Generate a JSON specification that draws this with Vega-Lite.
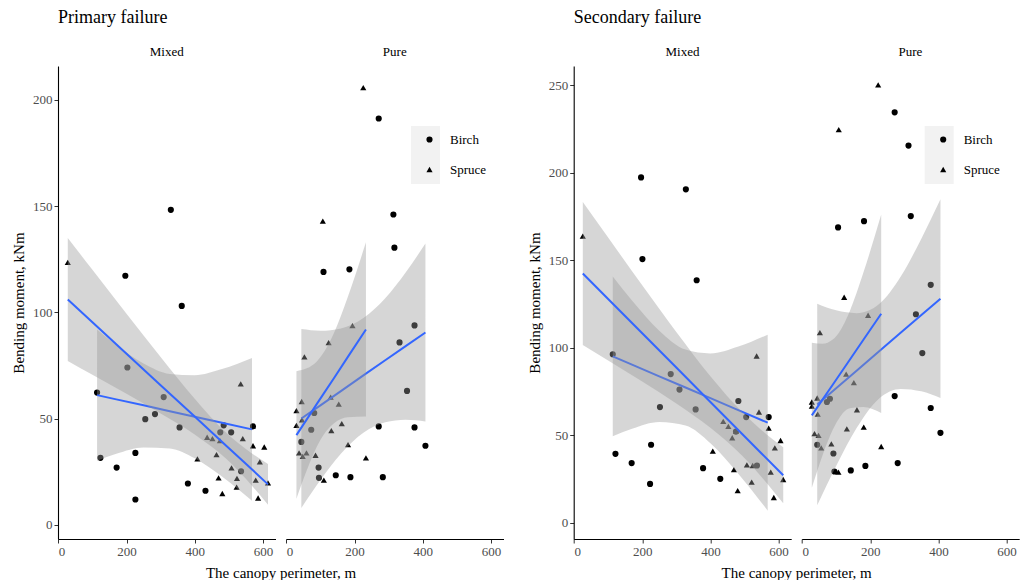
{
  "$schema": "https://vega.github.io/schema/vega-lite/v6.json",
  "background": "white",
  "padding": {"left": 11, "top": 9, "right": 0, "bottom": 0},
  "config": {
    "font": "Liberation Serif",
    "view": {"stroke": null},
    "axis": {"grid": false, "domainColor": "black", "domainWidth": 1.1, "tickColor": "#333333", "tickSize": 4, "tickWidth": 1, "labelColor": "#4d4d4d", "labelFont": "Liberation Serif", "labelFontSize": 13, "labelPadding": 2, "titleFont": "Liberation Serif", "titleFontSize": 15, "titleFontWeight": "normal", "titleColor": "black"},
    "legend": {"padding": 0, "title": null, "labelFont": "Liberation Serif", "labelFontSize": 13, "labelColor": "black", "symbolFillColor": "black", "symbolStrokeWidth": 0, "symbolSize": 38, "rowPadding": 16, "labelOffset": 14},
    "title": {"font": "Liberation Serif", "fontWeight": "normal", "color": "black"}
  },
  "datasets": {
    "keys": [{"k": "a"}, {"k": "b"}],
    "pts": [
      {"p":"P","s":"M","sp":"Spruce","x":27.7,"y":123.6},{"p":"P","s":"M","sp":"Spruce","x":535,"y":66.4},{"p":"P","s":"M","sp":"Spruce","x":436.5,"y":41.3},{"p":"P","s":"M","sp":"Spruce","x":452,"y":40.6},{"p":"P","s":"M","sp":"Spruce","x":474,"y":39.7},{"p":"P","s":"M","sp":"Spruce","x":541,"y":40.6},{"p":"P","s":"M","sp":"Spruce","x":464,"y":33.1},{"p":"P","s":"M","sp":"Spruce","x":408,"y":31.1},{"p":"P","s":"M","sp":"Spruce","x":571,"y":37.3},{"p":"P","s":"M","sp":"Spruce","x":604,"y":36.7},{"p":"P","s":"M","sp":"Spruce","x":508,"y":26.9},{"p":"P","s":"M","sp":"Spruce","x":591,"y":29.7},{"p":"P","s":"M","sp":"Spruce","x":470,"y":22.2},{"p":"P","s":"M","sp":"Spruce","x":524,"y":21.9},{"p":"P","s":"M","sp":"Spruce","x":579,"y":21.1},{"p":"P","s":"M","sp":"Spruce","x":615,"y":19.8},{"p":"P","s":"M","sp":"Spruce","x":523,"y":17.8},{"p":"P","s":"M","sp":"Spruce","x":481,"y":14.8},{"p":"P","s":"M","sp":"Spruce","x":586,"y":12.7},
      {"p":"P","s":"M","sp":"Birch","x":330,"y":148.3},{"p":"P","s":"M","sp":"Birch","x":196.5,"y":117.3},{"p":"P","s":"M","sp":"Birch","x":362,"y":103.1},{"p":"P","s":"M","sp":"Birch","x":202.5,"y":74.1},{"p":"P","s":"M","sp":"Birch","x":113.6,"y":62.3},{"p":"P","s":"M","sp":"Birch","x":309,"y":60.2},{"p":"P","s":"M","sp":"Birch","x":283.5,"y":52.2},{"p":"P","s":"M","sp":"Birch","x":255,"y":49.8},{"p":"P","s":"M","sp":"Birch","x":355.6,"y":45.9},{"p":"P","s":"M","sp":"Birch","x":571,"y":46.4},{"p":"P","s":"M","sp":"Birch","x":485,"y":46.9},{"p":"P","s":"M","sp":"Birch","x":475,"y":43.6},{"p":"P","s":"M","sp":"Birch","x":507,"y":43.6},{"p":"P","s":"M","sp":"Birch","x":536,"y":25.3},{"p":"P","s":"M","sp":"Birch","x":123.5,"y":31.6},{"p":"P","s":"M","sp":"Birch","x":226,"y":33.9},{"p":"P","s":"M","sp":"Birch","x":171,"y":27.0},{"p":"P","s":"M","sp":"Birch","x":380,"y":19.5},{"p":"P","s":"M","sp":"Birch","x":431.6,"y":16.1},{"p":"P","s":"M","sp":"Birch","x":226,"y":12.0},
      {"p":"P","s":"U","sp":"Spruce","x":225.6,"y":205.8},{"p":"P","s":"U","sp":"Spruce","x":107,"y":143},{"p":"P","s":"U","sp":"Spruce","x":194,"y":93.8},{"p":"P","s":"U","sp":"Spruce","x":124,"y":85.8},{"p":"P","s":"U","sp":"Spruce","x":53,"y":79.1},{"p":"P","s":"U","sp":"Spruce","x":45,"y":58.1},{"p":"P","s":"U","sp":"Spruce","x":130,"y":60.2},{"p":"P","s":"U","sp":"Spruce","x":153.7,"y":56.9},{"p":"P","s":"U","sp":"Spruce","x":29.6,"y":53.8},{"p":"P","s":"U","sp":"Spruce","x":29.6,"y":46.9},{"p":"P","s":"U","sp":"Spruce","x":46,"y":49.5},{"p":"P","s":"U","sp":"Spruce","x":162.6,"y":47.7},{"p":"P","s":"U","sp":"Spruce","x":132,"y":44.4},{"p":"P","s":"U","sp":"Spruce","x":181,"y":37.8},{"p":"P","s":"U","sp":"Spruce","x":37.4,"y":33.9},{"p":"P","s":"U","sp":"Spruce","x":59,"y":33.9},{"p":"P","s":"U","sp":"Spruce","x":48,"y":32.3},{"p":"P","s":"U","sp":"Spruce","x":85.7,"y":32.8},{"p":"P","s":"U","sp":"Spruce","x":233.5,"y":31.6},{"p":"P","s":"U","sp":"Spruce","x":110,"y":21.1},
      {"p":"P","s":"U","sp":"Birch","x":271,"y":191.3},{"p":"P","s":"U","sp":"Birch","x":314,"y":146.1},{"p":"P","s":"U","sp":"Birch","x":317,"y":130.5},{"p":"P","s":"U","sp":"Birch","x":109,"y":119.1},{"p":"P","s":"U","sp":"Birch","x":185,"y":120.3},{"p":"P","s":"U","sp":"Birch","x":376,"y":93.9},{"p":"P","s":"U","sp":"Birch","x":332,"y":85.9},{"p":"P","s":"U","sp":"Birch","x":354,"y":63.1},{"p":"P","s":"U","sp":"Birch","x":81.8,"y":52.7},{"p":"P","s":"U","sp":"Birch","x":73,"y":44.8},{"p":"P","s":"U","sp":"Birch","x":44,"y":39.1},{"p":"P","s":"U","sp":"Birch","x":271,"y":46.4},{"p":"P","s":"U","sp":"Birch","x":376,"y":45.9},{"p":"P","s":"U","sp":"Birch","x":408,"y":37.3},{"p":"P","s":"U","sp":"Birch","x":94.6,"y":27.0},{"p":"P","s":"U","sp":"Birch","x":95.6,"y":22.2},{"p":"P","s":"U","sp":"Birch","x":145,"y":23.4},{"p":"P","s":"U","sp":"Birch","x":188,"y":22.5},{"p":"P","s":"U","sp":"Birch","x":283,"y":22.5},
      {"p":"S","s":"M","sp":"Spruce","x":25.7,"y":163.7},{"p":"S","s":"M","sp":"Spruce","x":535.6,"y":95.2},{"p":"S","s":"M","sp":"Spruce","x":437.7,"y":57.8},{"p":"S","s":"M","sp":"Spruce","x":452.6,"y":55.0},{"p":"S","s":"M","sp":"Spruce","x":542.5,"y":63.2},{"p":"S","s":"M","sp":"Spruce","x":571,"y":54.0},{"p":"S","s":"M","sp":"Spruce","x":475,"y":52.1},{"p":"S","s":"M","sp":"Spruce","x":464,"y":48.5},{"p":"S","s":"M","sp":"Spruce","x":407,"y":40.8},{"p":"S","s":"M","sp":"Spruce","x":605.7,"y":46.9},{"p":"S","s":"M","sp":"Spruce","x":589,"y":42.7},{"p":"S","s":"M","sp":"Spruce","x":469,"y":30.3},{"p":"S","s":"M","sp":"Spruce","x":507,"y":33.0},{"p":"S","s":"M","sp":"Spruce","x":524,"y":32.6},{"p":"S","s":"M","sp":"Spruce","x":577,"y":28.8},{"p":"S","s":"M","sp":"Spruce","x":613.6,"y":24.6},{"p":"S","s":"M","sp":"Spruce","x":521,"y":23.1},{"p":"S","s":"M","sp":"Spruce","x":480,"y":18.3},{"p":"S","s":"M","sp":"Spruce","x":586,"y":14.3},
      {"p":"S","s":"M","sp":"Birch","x":196.6,"y":197.3},{"p":"S","s":"M","sp":"Birch","x":328,"y":190.5},{"p":"S","s":"M","sp":"Birch","x":200.6,"y":150.6},{"p":"S","s":"M","sp":"Birch","x":359.7,"y":138.5},{"p":"S","s":"M","sp":"Birch","x":113.6,"y":96.2},{"p":"S","s":"M","sp":"Birch","x":283.6,"y":84.9},{"p":"S","s":"M","sp":"Birch","x":309.3,"y":76.0},{"p":"S","s":"M","sp":"Birch","x":252,"y":66.0},{"p":"S","s":"M","sp":"Birch","x":356.7,"y":64.7},{"p":"S","s":"M","sp":"Birch","x":482,"y":69.5},{"p":"S","s":"M","sp":"Birch","x":571,"y":60.3},{"p":"S","s":"M","sp":"Birch","x":505,"y":60.3},{"p":"S","s":"M","sp":"Birch","x":475,"y":52},{"p":"S","s":"M","sp":"Birch","x":536.6,"y":32.6},{"p":"S","s":"M","sp":"Birch","x":121.5,"y":39.3},{"p":"S","s":"M","sp":"Birch","x":226,"y":44.5},{"p":"S","s":"M","sp":"Birch","x":169,"y":34.0},{"p":"S","s":"M","sp":"Birch","x":223,"y":22.1},{"p":"S","s":"M","sp":"Birch","x":378.5,"y":31.1},{"p":"S","s":"M","sp":"Birch","x":429,"y":25.0},
      {"p":"S","s":"U","sp":"Spruce","x":223.3,"y":250.2},{"p":"S","s":"U","sp":"Spruce","x":107.7,"y":224.6},{"p":"S","s":"U","sp":"Spruce","x":123.5,"y":128.8},{"p":"S","s":"U","sp":"Spruce","x":193.7,"y":118.5},{"p":"S","s":"U","sp":"Spruce","x":52.4,"y":108.6},{"p":"S","s":"U","sp":"Spruce","x":129.4,"y":84.9},{"p":"S","s":"U","sp":"Spruce","x":152,"y":80.0},{"p":"S","s":"U","sp":"Spruce","x":44.5,"y":71.2},{"p":"S","s":"U","sp":"Spruce","x":28.7,"y":68.9},{"p":"S","s":"U","sp":"Spruce","x":28.7,"y":66.6},{"p":"S","s":"U","sp":"Spruce","x":161,"y":64.5},{"p":"S","s":"U","sp":"Spruce","x":131.4,"y":53.6},{"p":"S","s":"U","sp":"Spruce","x":181,"y":54.6},{"p":"S","s":"U","sp":"Spruce","x":36.6,"y":50.8},{"p":"S","s":"U","sp":"Spruce","x":48.4,"y":49.8},{"p":"S","s":"U","sp":"Spruce","x":86,"y":45.0},{"p":"S","s":"U","sp":"Spruce","x":56.3,"y":42.7},{"p":"S","s":"U","sp":"Spruce","x":232.2,"y":43.5},{"p":"S","s":"U","sp":"Spruce","x":106.7,"y":28.8},{"p":"S","s":"U","sp":"Spruce","x":46,"y":62},
      {"p":"S","s":"U","sp":"Birch","x":271.7,"y":234.5},{"p":"S","s":"U","sp":"Birch","x":312.3,"y":215.5},{"p":"S","s":"U","sp":"Birch","x":319,"y":175.2},{"p":"S","s":"U","sp":"Birch","x":105.7,"y":168.7},{"p":"S","s":"U","sp":"Birch","x":181.8,"y":172.3},{"p":"S","s":"U","sp":"Birch","x":377.5,"y":135.9},{"p":"S","s":"U","sp":"Birch","x":334,"y":119.1},{"p":"S","s":"U","sp":"Birch","x":352.8,"y":96.9},{"p":"S","s":"U","sp":"Birch","x":81.8,"y":70.8},{"p":"S","s":"U","sp":"Birch","x":73,"y":68.9},{"p":"S","s":"U","sp":"Birch","x":44.5,"y":44.5},{"p":"S","s":"U","sp":"Birch","x":271.7,"y":72.3},{"p":"S","s":"U","sp":"Birch","x":377.5,"y":65.5},{"p":"S","s":"U","sp":"Birch","x":406,"y":51.3},{"p":"S","s":"U","sp":"Birch","x":92,"y":39.5},{"p":"S","s":"U","sp":"Birch","x":95,"y":29.2},{"p":"S","s":"U","sp":"Birch","x":143,"y":29.8},{"p":"S","s":"U","sp":"Birch","x":185.8,"y":32.4},{"p":"S","s":"U","sp":"Birch","x":280.6,"y":34.0}
    ],
    "fits": [
      {"p":"P","s":"M","sp":"Spruce","x":27.7,"lo":77.2,"hi":135.0,"y":106.1},{"p":"P","s":"M","sp":"Spruce","x":100,"lo":70.7,"hi":120.1,"y":95.4},{"p":"P","s":"M","sp":"Spruce","x":200,"lo":61.7,"hi":99.4,"y":80.6},{"p":"P","s":"M","sp":"Spruce","x":300,"lo":52.5,"hi":79.1,"y":65.8},{"p":"P","s":"M","sp":"Spruce","x":400,"lo":42.6,"hi":59.4,"y":51.0},{"p":"P","s":"M","sp":"Spruce","x":494,"lo":30.9,"hi":43.2,"y":37.0},{"p":"P","s":"M","sp":"Spruce","x":550,"lo":21.7,"hi":35.8,"y":28.8},{"p":"P","s":"M","sp":"Spruce","x":615,"lo":9.5,"hi":28.7,"y":19.1},
      {"p":"P","s":"M","sp":"Birch","x":113.6,"lo":30.2,"hi":92.0,"y":61.1},{"p":"P","s":"M","sp":"Birch","x":170,"lo":33.5,"hi":84.7,"y":59.1},{"p":"P","s":"M","sp":"Birch","x":250,"lo":36.5,"hi":76.0,"y":56.3},{"p":"P","s":"M","sp":"Birch","x":327,"lo":36.0,"hi":71.1,"y":53.5},{"p":"P","s":"M","sp":"Birch","x":400,"lo":31.4,"hi":70.5,"y":50.9},{"p":"P","s":"M","sp":"Birch","x":480,"lo":22.8,"hi":73.4,"y":48.1},{"p":"P","s":"M","sp":"Birch","x":568,"lo":11.4,"hi":78.6,"y":45.0},
      {"p":"P","s":"U","sp":"Spruce","x":29.6,"lo":12.3,"hi":72.4,"y":42.3},{"p":"P","s":"U","sp":"Spruce","x":60,"lo":25.7,"hi":73.7,"y":49.7},{"p":"P","s":"U","sp":"Spruce","x":90,"lo":37.0,"hi":77.1,"y":57.1},{"p":"P","s":"U","sp":"Spruce","x":109,"lo":42.4,"hi":81.0,"y":61.7},{"p":"P","s":"U","sp":"Spruce","x":140,"lo":47.9,"hi":90.5,"y":69.2},{"p":"P","s":"U","sp":"Spruce","x":180,"lo":50.7,"hi":107.2,"y":79.0},{"p":"P","s":"U","sp":"Spruce","x":233.5,"lo":51.0,"hi":133.0,"y":92.0},
      {"p":"P","s":"U","sp":"Birch","x":44,"lo":8.0,"hi":92.2,"y":50.1},{"p":"P","s":"U","sp":"Birch","x":100,"lo":21.2,"hi":91.4,"y":56.3},{"p":"P","s":"U","sp":"Birch","x":160,"lo":33.5,"hi":92.5,"y":63.0},{"p":"P","s":"U","sp":"Birch","x":227,"lo":43.5,"hi":97.5,"y":70.5},{"p":"P","s":"U","sp":"Birch","x":290,"lo":48.3,"hi":106.7,"y":77.5},{"p":"P","s":"U","sp":"Birch","x":350,"lo":49.5,"hi":118.8,"y":84.2},{"p":"P","s":"U","sp":"Birch","x":408,"lo":48.7,"hi":132.5,"y":90.6},
      {"p":"S","s":"M","sp":"Spruce","x":25.7,"lo":101.5,"hi":183.3,"y":142.4},{"p":"S","s":"M","sp":"Spruce","x":100,"lo":92.7,"hi":162.9,"y":127.8},{"p":"S","s":"M","sp":"Spruce","x":200,"lo":80.7,"hi":135.7,"y":108.2},{"p":"S","s":"M","sp":"Spruce","x":300,"lo":68.1,"hi":109.0,"y":88.6},{"p":"S","s":"M","sp":"Spruce","x":400,"lo":54.2,"hi":83.7,"y":68.9},{"p":"S","s":"M","sp":"Spruce","x":494,"lo":38.0,"hi":63.0,"y":50.5},{"p":"S","s":"M","sp":"Spruce","x":550,"lo":26.1,"hi":52.8,"y":39.5},{"p":"S","s":"M","sp":"Spruce","x":613.6,"lo":11.0,"hi":43.0,"y":27.0},
      {"p":"S","s":"M","sp":"Birch","x":113.6,"lo":49.3,"hi":140.7,"y":95.0},{"p":"S","s":"M","sp":"Birch","x":170,"lo":53.6,"hi":126.9,"y":90.3},{"p":"S","s":"M","sp":"Birch","x":250,"lo":57.5,"hi":109.7,"y":83.6},{"p":"S","s":"M","sp":"Birch","x":327,"lo":55.5,"hi":98.9,"y":77.2},{"p":"S","s":"M","sp":"Birch","x":400,"lo":45.4,"hi":96.7,"y":71.1},{"p":"S","s":"M","sp":"Birch","x":480,"lo":28.4,"hi":100.5,"y":64.4},{"p":"S","s":"M","sp":"Birch","x":568,"lo":6.8,"hi":107.4,"y":57.1},
      {"p":"S","s":"U","sp":"Spruce","x":28.7,"lo":19.9,"hi":102.8,"y":61.3},{"p":"S","s":"U","sp":"Spruce","x":60,"lo":38.4,"hi":102.2,"y":70.3},{"p":"S","s":"U","sp":"Spruce","x":90,"lo":53.0,"hi":104.6,"y":78.8},{"p":"S","s":"U","sp":"Spruce","x":109,"lo":59.7,"hi":108.8,"y":84.2},{"p":"S","s":"U","sp":"Spruce","x":140,"lo":65.3,"hi":120.8,"y":93.1},{"p":"S","s":"U","sp":"Spruce","x":180,"lo":66.1,"hi":142.9,"y":104.5},{"p":"S","s":"U","sp":"Spruce","x":232.2,"lo":62.6,"hi":176.1,"y":119.4},
      {"p":"S","s":"U","sp":"Birch","x":44.5,"lo":9.9,"hi":125.1,"y":67.5},{"p":"S","s":"U","sp":"Birch","x":100,"lo":32.3,"hi":121.3,"y":76.8},{"p":"S","s":"U","sp":"Birch","x":160,"lo":54.0,"hi":119.7,"y":86.8},{"p":"S","s":"U","sp":"Birch","x":227,"lo":71.1,"hi":125.1,"y":98.1},{"p":"S","s":"U","sp":"Birch","x":290,"lo":76.4,"hi":140.8,"y":108.6},{"p":"S","s":"U","sp":"Birch","x":350,"lo":75.0,"hi":162.3,"y":118.6},{"p":"S","s":"U","sp":"Birch","x":406,"lo":71.2,"hi":184.8,"y":128.0}
    ]
  },
  "resolve": {"scale": {"x": "independent", "y": "independent", "shape": "independent", "color": "independent"}, "legend": {"shape": "independent", "color": "independent"}},
  "bounds": "flush",
  "spacing": 515.7,
  "hconcat": [
    {
      "title": {"text": "Primary failure", "anchor": "start", "frame": "group", "fontSize": 18, "offset": 19},
      "resolve": {"scale": {"x": "independent", "y": "independent", "shape": "independent", "color": "independent"}, "legend": {"shape": "independent", "color": "independent"}},
      "bounds": "flush",
      "spacing": 10,
      "hconcat": [
        {
          "width": 217.5, "height": 473,
          "title": {"text": "Mixed", "fontSize": 13, "anchor": "middle", "frame": "group", "offset": 7},
          "encoding": {
            "x": {"field": "x", "type": "quantitative", "scale": {"domain": [-1, 637], "nice": false, "zero": false}, "axis": {"values": [0, 200, 400, 600], "title": "The canopy perimeter, m", "titleX": 222.5, "titlePadding": 7}},
            "y": {"field": "y", "type": "quantitative", "scale": {"domain": [-6.6, 216], "nice": false, "zero": false}, "axis": {"values": [0, 50, 100, 150, 200], "title": "Bending moment, kNm", "titlePadding": 6}}
          },
          "layer": [
            {"data": {"name": "pts"}, "transform": [{"filter": "datum.p=='P' && datum.s=='M'"}], "mark": {"type": "point", "filled": true, "color": "black", "opacity": 1, "size": 38, "strokeWidth": 0}, "encoding": {"shape": {"field": "sp", "type": "nominal", "scale": {"domain": ["Birch", "Spruce"], "range": ["circle", "triangle-up"]}, "legend": null}}},
            {"data": {"name": "fits"}, "transform": [{"filter": "datum.p=='P' && datum.s=='M' && datum.sp=='Birch'"}], "mark": {"type": "area", "color": "#999999", "opacity": 0.4, "interpolate": "monotone"}, "encoding": {"y": {"field": "lo", "type": "quantitative"}, "y2": {"field": "hi"}}},
            {"data": {"name": "fits"}, "transform": [{"filter": "datum.p=='P' && datum.s=='M' && datum.sp=='Birch'"}], "mark": {"type": "line", "color": "#3366FF", "strokeWidth": 2}, "encoding": {}},
            {"data": {"name": "fits"}, "transform": [{"filter": "datum.p=='P' && datum.s=='M' && datum.sp=='Spruce'"}], "mark": {"type": "area", "color": "#999999", "opacity": 0.4, "interpolate": "monotone"}, "encoding": {"y": {"field": "lo", "type": "quantitative"}, "y2": {"field": "hi"}}},
            {"data": {"name": "fits"}, "transform": [{"filter": "datum.p=='P' && datum.s=='M' && datum.sp=='Spruce'"}], "mark": {"type": "line", "color": "#3366FF", "strokeWidth": 2}, "encoding": {}}
          ]
        },
        {
          "width": 217.5, "height": 473,
          "title": {"text": "Pure", "fontSize": 13, "anchor": "middle", "frame": "group", "offset": 7},
          "encoding": {
            "x": {"field": "x", "type": "quantitative", "scale": {"domain": [-1, 637], "nice": false, "zero": false}, "axis": {"values": [0, 200, 400, 600], "title": null}},
            "y": {"field": "y", "type": "quantitative", "scale": {"domain": [-6.6, 216], "nice": false, "zero": false}, "axis": null}
          },
          "layer": [
            {"data": {"name": "keys"}, "mark": {"type": "point", "filled": true, "size": 0, "opacity": 1}, "encoding": {"x": {"datum": 300}, "y": {"datum": 100}, "color": {"field": "k", "type": "nominal", "scale": {"domain": ["a", "b"], "range": ["#f2f2f2", "#f2f2f2"]}, "legend": {"orient": "none", "legendX": 125, "legendY": 60, "symbolType": "square", "symbolSize": 841, "symbolStrokeWidth": 0, "symbolOpacity": 1, "rowPadding": 0, "labelExpr": "''", "zindex": 1}}}},
            {"data": {"name": "pts"}, "transform": [{"filter": "datum.p=='P' && datum.s=='U'"}], "mark": {"type": "point", "filled": true, "color": "black", "opacity": 1, "size": 38, "strokeWidth": 0}, "encoding": {"shape": {"field": "sp", "type": "nominal", "scale": {"domain": ["Birch", "Spruce"], "range": ["circle", "triangle-up"]}, "legend": {"orient": "none", "legendX": 137, "legendY": 67, "zindex": 2}}}},
            {"data": {"name": "fits"}, "transform": [{"filter": "datum.p=='P' && datum.s=='U' && datum.sp=='Birch'"}], "mark": {"type": "area", "color": "#999999", "opacity": 0.4, "interpolate": "monotone"}, "encoding": {"y": {"field": "lo", "type": "quantitative"}, "y2": {"field": "hi"}}},
            {"data": {"name": "fits"}, "transform": [{"filter": "datum.p=='P' && datum.s=='U' && datum.sp=='Birch'"}], "mark": {"type": "line", "color": "#3366FF", "strokeWidth": 2}, "encoding": {}},
            {"data": {"name": "fits"}, "transform": [{"filter": "datum.p=='P' && datum.s=='U' && datum.sp=='Spruce'"}], "mark": {"type": "area", "color": "#999999", "opacity": 0.4, "interpolate": "monotone"}, "encoding": {"y": {"field": "lo", "type": "quantitative"}, "y2": {"field": "hi"}}},
            {"data": {"name": "fits"}, "transform": [{"filter": "datum.p=='P' && datum.s=='U' && datum.sp=='Spruce'"}], "mark": {"type": "line", "color": "#3366FF", "strokeWidth": 2}, "encoding": {}}
          ]
        }
      ]
    },
    {
      "title": {"text": "Secondary failure", "anchor": "start", "frame": "group", "fontSize": 18, "offset": 19},
      "resolve": {"scale": {"x": "independent", "y": "independent", "shape": "independent", "color": "independent"}, "legend": {"shape": "independent", "color": "independent"}},
      "bounds": "flush",
      "spacing": 10,
      "hconcat": [
        {
          "width": 217.5, "height": 473,
          "title": {"text": "Mixed", "fontSize": 13, "anchor": "middle", "frame": "group", "offset": 7},
          "encoding": {
            "x": {"field": "x", "type": "quantitative", "scale": {"domain": [-1, 637], "nice": false, "zero": false}, "axis": {"values": [0, 200, 400, 600], "title": "The canopy perimeter, m", "titleX": 222.5, "titlePadding": 7}},
            "y": {"field": "y", "type": "quantitative", "scale": {"domain": [-9.4, 261], "nice": false, "zero": false}, "axis": {"values": [0, 50, 100, 150, 200, 250], "title": "Bending moment, kNm", "titlePadding": 6}}
          },
          "layer": [
            {"data": {"name": "pts"}, "transform": [{"filter": "datum.p=='S' && datum.s=='M'"}], "mark": {"type": "point", "filled": true, "color": "black", "opacity": 1, "size": 38, "strokeWidth": 0}, "encoding": {"shape": {"field": "sp", "type": "nominal", "scale": {"domain": ["Birch", "Spruce"], "range": ["circle", "triangle-up"]}, "legend": null}}},
            {"data": {"name": "fits"}, "transform": [{"filter": "datum.p=='S' && datum.s=='M' && datum.sp=='Birch'"}], "mark": {"type": "area", "color": "#999999", "opacity": 0.4, "interpolate": "monotone"}, "encoding": {"y": {"field": "lo", "type": "quantitative"}, "y2": {"field": "hi"}}},
            {"data": {"name": "fits"}, "transform": [{"filter": "datum.p=='S' && datum.s=='M' && datum.sp=='Birch'"}], "mark": {"type": "line", "color": "#3366FF", "strokeWidth": 2}, "encoding": {}},
            {"data": {"name": "fits"}, "transform": [{"filter": "datum.p=='S' && datum.s=='M' && datum.sp=='Spruce'"}], "mark": {"type": "area", "color": "#999999", "opacity": 0.4, "interpolate": "monotone"}, "encoding": {"y": {"field": "lo", "type": "quantitative"}, "y2": {"field": "hi"}}},
            {"data": {"name": "fits"}, "transform": [{"filter": "datum.p=='S' && datum.s=='M' && datum.sp=='Spruce'"}], "mark": {"type": "line", "color": "#3366FF", "strokeWidth": 2}, "encoding": {}}
          ]
        },
        {
          "width": 217.5, "height": 473,
          "title": {"text": "Pure", "fontSize": 13, "anchor": "middle", "frame": "group", "offset": 7},
          "encoding": {
            "x": {"field": "x", "type": "quantitative", "scale": {"domain": [-1, 637], "nice": false, "zero": false}, "axis": {"values": [0, 200, 400, 600], "title": null}},
            "y": {"field": "y", "type": "quantitative", "scale": {"domain": [-9.4, 261], "nice": false, "zero": false}, "axis": null}
          },
          "layer": [
            {"data": {"name": "keys"}, "mark": {"type": "point", "filled": true, "size": 0, "opacity": 1}, "encoding": {"x": {"datum": 300}, "y": {"datum": 100}, "color": {"field": "k", "type": "nominal", "scale": {"domain": ["a", "b"], "range": ["#f2f2f2", "#f2f2f2"]}, "legend": {"orient": "none", "legendX": 123, "legendY": 60, "symbolType": "square", "symbolSize": 841, "symbolStrokeWidth": 0, "symbolOpacity": 1, "rowPadding": 0, "labelExpr": "''", "zindex": 1}}}},
            {"data": {"name": "pts"}, "transform": [{"filter": "datum.p=='S' && datum.s=='U'"}], "mark": {"type": "point", "filled": true, "color": "black", "opacity": 1, "size": 38, "strokeWidth": 0}, "encoding": {"shape": {"field": "sp", "type": "nominal", "scale": {"domain": ["Birch", "Spruce"], "range": ["circle", "triangle-up"]}, "legend": {"orient": "none", "legendX": 135, "legendY": 67, "zindex": 2}}}},
            {"data": {"name": "fits"}, "transform": [{"filter": "datum.p=='S' && datum.s=='U' && datum.sp=='Birch'"}], "mark": {"type": "area", "color": "#999999", "opacity": 0.4, "interpolate": "monotone"}, "encoding": {"y": {"field": "lo", "type": "quantitative"}, "y2": {"field": "hi"}}},
            {"data": {"name": "fits"}, "transform": [{"filter": "datum.p=='S' && datum.s=='U' && datum.sp=='Birch'"}], "mark": {"type": "line", "color": "#3366FF", "strokeWidth": 2}, "encoding": {}},
            {"data": {"name": "fits"}, "transform": [{"filter": "datum.p=='S' && datum.s=='U' && datum.sp=='Spruce'"}], "mark": {"type": "area", "color": "#999999", "opacity": 0.4, "interpolate": "monotone"}, "encoding": {"y": {"field": "lo", "type": "quantitative"}, "y2": {"field": "hi"}}},
            {"data": {"name": "fits"}, "transform": [{"filter": "datum.p=='S' && datum.s=='U' && datum.sp=='Spruce'"}], "mark": {"type": "line", "color": "#3366FF", "strokeWidth": 2}, "encoding": {}}
          ]
        }
      ]
    }
  ]
}
